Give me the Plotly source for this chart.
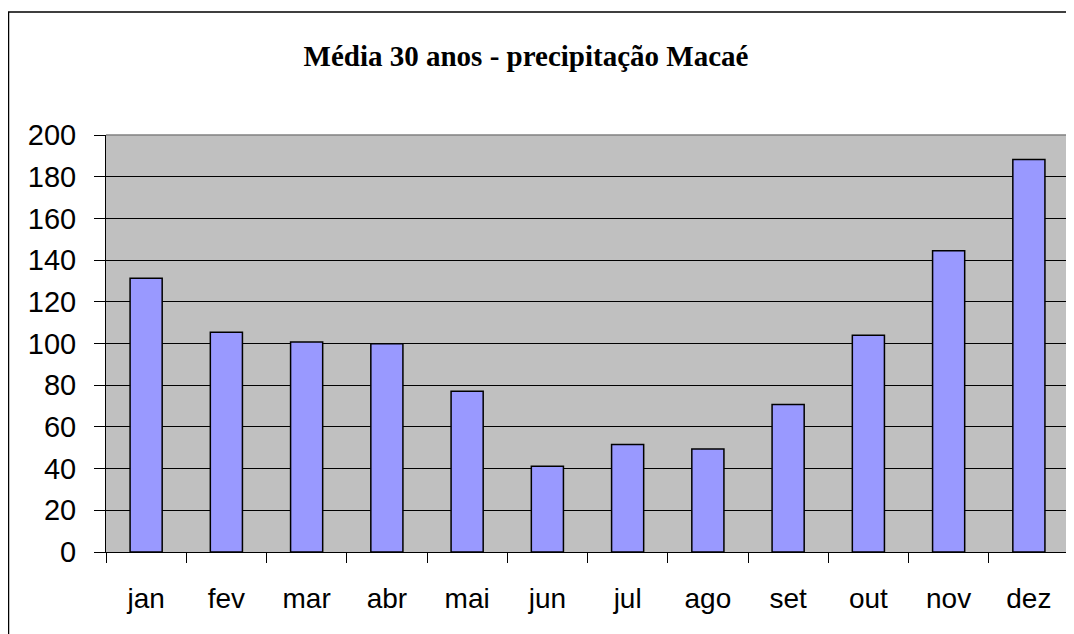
import plotly.graph_objects as go

months = ["jan", "fev", "mar", "abr", "mai", "jun", "jul", "ago", "set", "out", "nov", "dez"]
precip = [131.3, 105.4, 100.7, 99.9, 77.1, 41.1, 51.6, 49.4, 70.8, 103.9, 144.5, 188.2]
y_ticks = [0, 20, 40, 60, 80, 100, 120, 140, 160, 180, 200]
title_text = "<b>Média 30 anos - precipitação Macaé</b>"

# page is offset by the 8px body margin, so figure coords = screen coords - 8
OFF = 8
W, H = 1074, 634
L, R, T, B = 106 - OFF, 1069 - OFF, 135 - OFF, 552 - OFF

fig = go.Figure(go.Bar(
    x=months, y=precip,
    marker=dict(color="#9999FF", line=dict(color="black", width=1.5)),
))

def px_to_paper_x(px):
    return (px - L) / (R - L)

def px_to_paper_y(py):
    return (B - py) / (B - T)

fig.update_layout(
    width=W, height=H,
    margin=dict(l=L, r=W - R, t=T, b=H - B, pad=0),
    paper_bgcolor="white",
    plot_bgcolor="#C0C0C0",
    bargap=0.6,
    showlegend=False,
    title=dict(text=title_text, x=px_to_paper_x(526 - OFF), xanchor="center", xref="paper",
               y=1 - (56 - OFF) / H, yanchor="middle",
               font=dict(family="Liberation Serif", size=29, color="black")),
    font=dict(family="Liberation Sans", color="black"),
)

fig.update_xaxes(
    type="category", tickson="boundaries", ticks="outside", ticklen=10, tickcolor="black",
    tickwidth=1, showline=True, linecolor="black", linewidth=1, showgrid=False,
    tickfont=dict(family="Liberation Sans", size=28, color="black"),
    ticklabelstandoff=21, range=[-0.5, 11.5],
)
fig.update_yaxes(
    range=[0, 200], tickvals=y_ticks, ticks="outside", ticklen=11, tickcolor="black",
    tickwidth=1, showline=True, linecolor="black", linewidth=1,
    showgrid=True, gridcolor="black", gridwidth=1, zeroline=False,
    tickfont=dict(family="Liberation Sans", size=29, color="black"),
    ticklabelstandoff=12,
)

# plot area top/right gray border
fig.add_shape(type="line", xref="paper", yref="paper", x0=0, x1=1, y0=1, y1=1,
              line=dict(color="#808080", width=1.5))
fig.add_shape(type="line", xref="paper", yref="paper", x0=1, x1=1, y0=0, y1=1,
              line=dict(color="#808080", width=1.5))
# outer chart border (right/bottom sides fall outside the visible page)
fig.add_shape(type="rect", xref="paper", yref="paper",
              x0=px_to_paper_x(0.5), x1=px_to_paper_x(1090),
              y0=px_to_paper_y(660), y1=px_to_paper_y(12 - OFF),
              line=dict(color="black", width=1.5), fillcolor="rgba(0,0,0,0)", layer="below")

fig.write_html("out.html")
